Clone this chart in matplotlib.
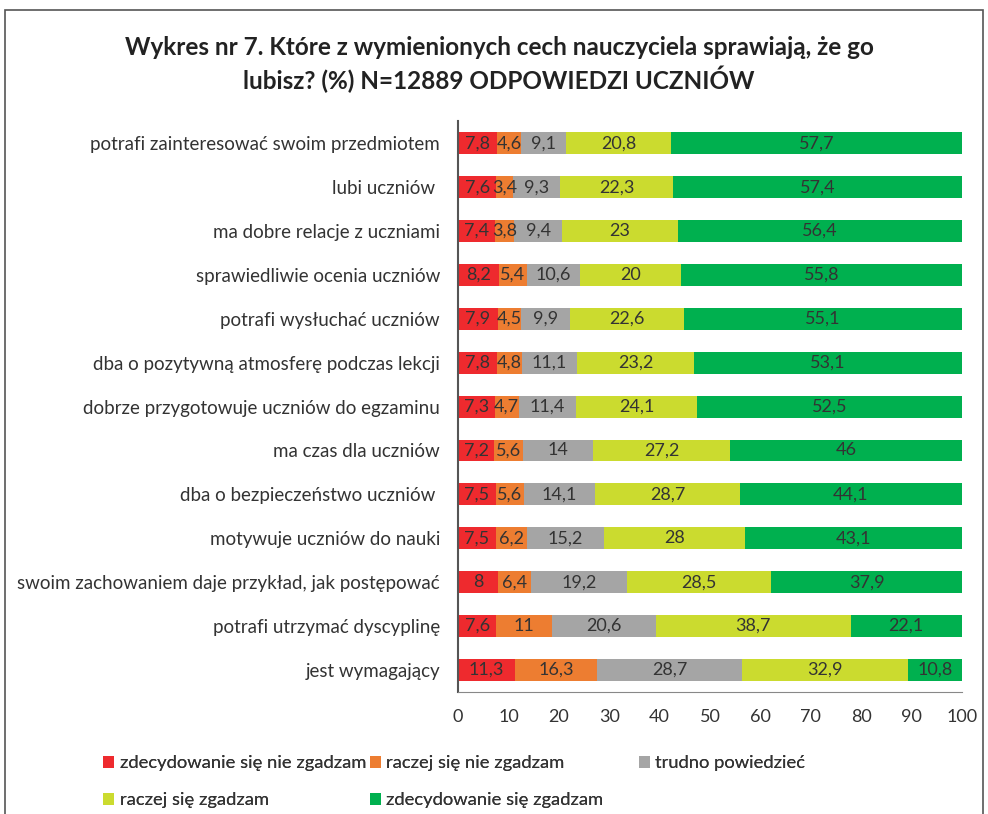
import matplotlib.pyplot as plt
import matplotlib.patches as mpatches
import numpy as np

plt.rcParams['font.family'] = ['Lato', 'DejaVu Sans']

categories = [
    "potrafi zainteresować swoim przedmiotem",
    "lubi uczniów ",
    "ma dobre relacje z uczniami",
    "sprawiedliwie ocenia uczniów",
    "potrafi wysłuchać uczniów",
    "dba o pozytywną atmosferę podczas lekcji",
    "dobrze przygotowuje uczniów do egzaminu",
    "ma czas dla uczniów",
    "dba o bezpieczeństwo uczniów ",
    "motywuje uczniów do nauki",
    "swoim zachowaniem daje przykład, jak postępować",
    "potrafi utrzymać dyscyplinę",
    "jest wymagający",
]

strongly_disagree = [7.8, 7.6, 7.4, 8.2, 7.9, 7.8, 7.3, 7.2, 7.5, 7.5, 8, 7.6, 11.3]
rather_disagree = [4.6, 3.4, 3.8, 5.4, 4.5, 4.8, 4.7, 5.6, 5.6, 6.2, 6.4, 11, 16.3]
hard_to_say = [9.1, 9.3, 9.4, 10.6, 9.9, 11.1, 11.4, 14, 14.1, 15.2, 19.2, 20.6, 28.7]
rather_agree = [20.8, 22.3, 23, 20, 22.6, 23.2, 24.1, 27.2, 28.7, 28, 28.5, 38.7, 32.9]
strongly_agree = [57.7, 57.4, 56.4, 55.8, 55.1, 53.1, 52.5, 46, 44.1, 43.1, 37.9, 22.1, 10.8]

series_names = ["zdecydowanie się nie zgadzam", "raczej się nie zgadzam",
                "trudno powiedzieć", "raczej się zgadzam", "zdecydowanie się zgadzam"]
series = [strongly_disagree, rather_disagree, hard_to_say, rather_agree, strongly_agree]
colors = ["#EE2A2E", "#ED7D31", "#A5A5A5", "#CBDB2F", "#00B04F"]

fig = plt.figure(figsize=(9.88, 8.14), dpi=100)
ax = fig.add_axes([0.4636, 0.150, 0.5101, 0.701])

y = np.arange(len(categories))
left = np.zeros(len(categories))
bars = []
for vals, c, name in zip(series, colors, series_names):
    vals = np.array(vals)
    b = ax.barh(y, vals, left=left, height=0.5, color=c, label=name)
    bars.append(b)
    for yi, l, v in zip(y, left, vals):
        txt = ("%g" % v).replace(".", ",")
        ax.text(l + v / 2, yi, txt, ha="center", va="center",
                fontsize=13, color="#333333")
    left += vals

ax.set_xlim(0, 100)
ax.set_ylim(len(categories) - 0.5, -0.5)
ax.set_xticks(np.arange(0, 101, 10))
ax.set_yticks(y)
ax.set_yticklabels(categories, fontsize=13.5, color="#333333")
ax.tick_params(axis="both", length=0)
ax.tick_params(axis="y", pad=13)
ax.tick_params(axis="x", labelsize=13, labelcolor="#333333", pad=12)
for s in ["top", "right"]:
    ax.spines[s].set_visible(False)
ax.spines["left"].set_color("#555555")
ax.spines["left"].set_linewidth(1.5)
ax.spines["bottom"].set_color("#888888")

fig.text(0.505, 0.942, "Wykres nr 7. Które z wymienionych cech nauczyciela sprawiają, że go",
         ha="center", va="center", fontsize=17.5, fontweight="bold", color="#222222")
fig.text(0.505, 0.903, "lubisz? (%) N=12889 ODPOWIEDZI UCZNIÓW",
         ha="center", va="center", fontsize=17.5, fontweight="bold", color="#222222")

# legend: three columns placed at the same positions as the original
columns = [[0, 3], [1, 4], [2]]
col_x = [0.097, 0.367, 0.639]
for idx, cx in zip(columns, col_x):
    leg = fig.legend([bars[i] for i in idx], [series_names[i] for i in idx],
                     loc="upper left", bbox_to_anchor=(cx, 0.081), ncol=1,
                     frameon=False, fontsize=13.2, handlelength=0.6, handleheight=0.6,
                     handletextpad=0.3, labelspacing=1.15, labelcolor="#333333",
                     borderaxespad=0)
    fig.add_artist(leg)

# frame around the chart
fig.patches.append(mpatches.Rectangle((0.005, -0.05), 0.99, 1.038, transform=fig.transFigure,
                                      fill=False, edgecolor="#555555", linewidth=1.2))

fig.savefig("out.png", dpi=100)
